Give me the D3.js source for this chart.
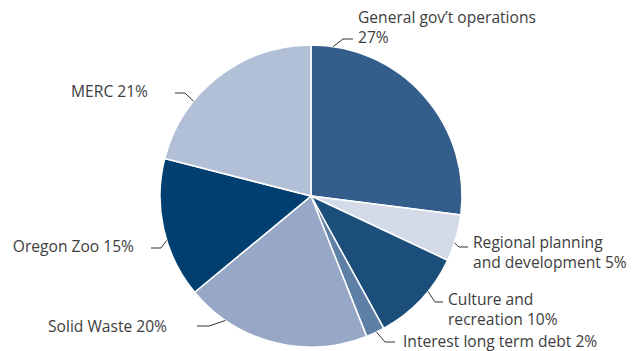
<!DOCTYPE html>
<html>
<head>
<meta charset="utf-8">
<script src="https://cdn.jsdelivr.net/npm/d3@7"></script>
<style>
  body { margin: 0; background: #fff; }
  .label { font-family: "Open Sans", sans-serif; font-size: 15.6px; fill: #3d3d3d; }
  .leader { fill: none; stroke: #333; stroke-width: 1; }
</style>
</head>
<body>
<div id="chart"></div>
<script>
// slices, clockwise from 12 o'clock
var categories = ["General gov\u2019t operations", "Regional planning and development",
  "Culture and recreation", "Interest long term debt", "Solid Waste", "Oregon Zoo", "MERC"];
var shares = [27, 5, 10, 2, 20, 15, 21];
var colors = ["#335e8b", "#d4dbe8", "#1b4e7b", "#5e7fa6", "#97a8c6", "#003f6f", "#b2c0d7"];

// label text lines (as printed)
var labelLines = [
  ["General gov\u2019t operations", "27%"],
  ["Regional planning", "and development 5%"],
  ["Culture and", "recreation 10%"],
  ["Interest long term debt 2%"],
  ["Solid Waste 20%"],
  ["Oregon Zoo 15%"],
  ["MERC 21%"]
];

var width = 641, height = 351;
var cx = 311, cy = 196, radius = 151;

// leader layout: angle where leader touches the pie, elbow, end, text anchor point
var labelLayout = [
  { touch: 8.4,   elbow: [343, 39],  end: [353, 39],  tx: 358, ty: 23,  anchor: "start", lh: 20 },
  { touch: 108.1, elbow: [459, 247], end: [468, 247], tx: 473, ty: 248, anchor: "start", lh: 20 },
  { touch: 129.2, elbow: [435, 302], end: [443, 302], tx: 448, ty: 305, anchor: "start", lh: 20 },
  { touch: 154.3, elbow: [385, 342], end: [395, 342], tx: 403, ty: 347, anchor: "start", lh: 20 },
  { touch: 214.5, elbow: [209, 326], end: [197, 326], tx: 167, ty: 332, anchor: "end",   lh: 20 },
  { touch: 252.9, elbow: [161, 248], end: [151, 248], tx: 134, ty: 252, anchor: "end",   lh: 20 },
  { touch: 308.9, elbow: [185, 93],  end: [175, 93],  tx: 148, ty: 97,  anchor: "end",   lh: 20 }
];

var svg = d3.select("#chart").append("svg")
    .attr("width", width)
    .attr("height", height);

var pie = d3.pie().sort(null).value(function(d) { return d; });
var arc = d3.arc().innerRadius(0).outerRadius(radius);

var g = svg.append("g")
    .attr("transform", "translate(" + cx + "," + cy + ")");

g.selectAll(".slice")
    .data(pie(shares))
  .enter().append("path")
    .attr("class", "slice")
    .attr("d", arc)
    .attr("fill", function(d, i) { return colors[i]; })
    .attr("stroke", "#fff")
    .attr("stroke-width", 1.5);

// leaders
var line = d3.line();
svg.selectAll(".leader")
    .data(labelLayout)
  .enter().append("path")
    .attr("class", "leader")
    .attr("d", function(d) {
      var a = d.touch * Math.PI / 180;
      var p0 = [cx + radius * Math.sin(a), cy - radius * Math.cos(a)];
      return line([p0, d.elbow, d.end]);
    });

// labels
var labels = svg.selectAll(".label")
    .data(labelLayout)
  .enter().append("text")
    .attr("class", "label")
    .attr("x", function(d) { return d.tx; })
    .attr("y", function(d) { return d.ty; })
    .attr("text-anchor", function(d) { return d.anchor; });

labels.each(function(d, i) {
  var t = d3.select(this);
  labelLines[i].forEach(function(s, j) {
    t.append("tspan")
      .attr("x", d.tx)
      .attr("dy", j === 0 ? 0 : d.lh)
      .text(s);
  });
});
</script>
</body>
</html>
